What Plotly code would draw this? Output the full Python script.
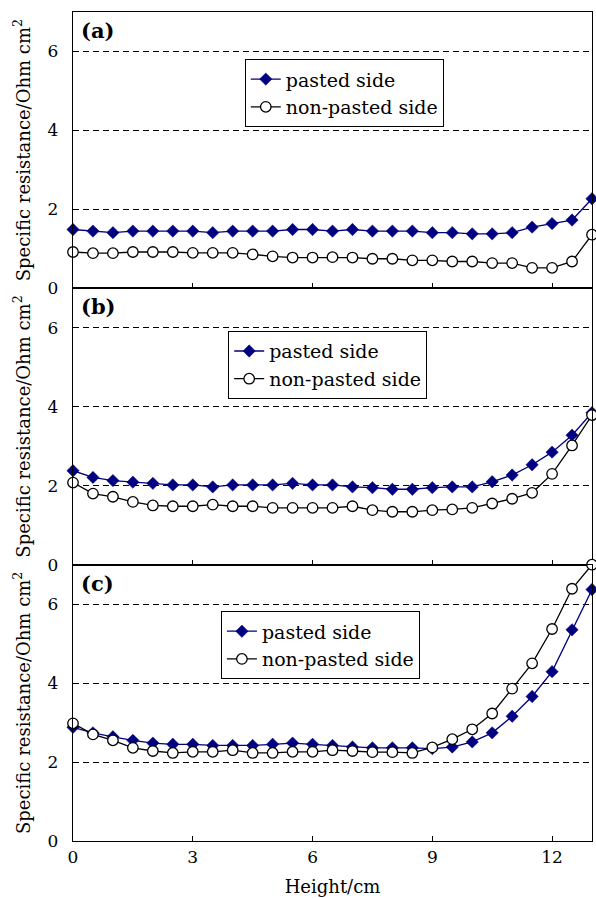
import plotly.graph_objects as go

height_cm = [0, 0.5, 1, 1.5, 2, 2.5, 3, 3.5, 4, 4.5, 5, 5.5, 6, 6.5, 7, 7.5, 8, 8.5,
             9, 9.5, 10, 10.5, 11, 11.5, 12, 12.5, 13]

a_pasted = [1.49, 1.45, 1.41, 1.45, 1.45, 1.45, 1.45, 1.41, 1.45, 1.45, 1.45, 1.49, 1.49,
            1.45, 1.49, 1.45, 1.45, 1.45, 1.41, 1.41, 1.38, 1.38, 1.41, 1.55, 1.64, 1.73, 2.27]
a_nonpasted = [0.92, 0.89, 0.89, 0.92, 0.92, 0.92, 0.90, 0.90, 0.90, 0.86, 0.81, 0.78, 0.78,
               0.79, 0.78, 0.75, 0.75, 0.71, 0.71, 0.68, 0.68, 0.64, 0.64, 0.52, 0.52, 0.68, 1.36]

b_pasted = [2.38, 2.21, 2.13, 2.09, 2.06, 2.02, 2.02, 1.97, 2.02, 2.02, 2.02, 2.06, 2.02,
            2.02, 1.97, 1.95, 1.91, 1.91, 1.95, 1.97, 1.97, 2.10, 2.27, 2.53, 2.85, 3.28, 3.85]
b_nonpasted = [2.08, 1.80, 1.72, 1.59, 1.50, 1.48, 1.48, 1.52, 1.48, 1.48, 1.44, 1.44, 1.44,
               1.44, 1.48, 1.38, 1.34, 1.34, 1.38, 1.40, 1.44, 1.55, 1.67, 1.82, 2.30, 3.02, 3.79]

c_pasted = [2.88, 2.74, 2.64, 2.55, 2.48, 2.45, 2.45, 2.42, 2.42, 2.42, 2.45, 2.48, 2.45,
            2.42, 2.38, 2.36, 2.36, 2.36, 2.34, 2.38, 2.51, 2.74, 3.16, 3.66, 4.29, 5.35, 6.37]
c_nonpasted = [2.98, 2.70, 2.55, 2.36, 2.28, 2.23, 2.26, 2.26, 2.30, 2.23, 2.23, 2.26, 2.26,
               2.30, 2.28, 2.25, 2.25, 2.23, 2.37, 2.58, 2.83, 3.23, 3.86, 4.50, 5.37, 6.39, 7.00]

panel_labels = ["(a)", "(b)", "(c)"]
series_names = ["pasted side", "non-pasted side"]
x_ticks = [0, 3, 6, 9, 12]
y_ticks = [0, 2, 4, 6]

FONT = "DejaVu Serif"
NAVY = "#000080"

panels = [(a_pasted, a_nonpasted), (b_pasted, b_nonpasted), (c_pasted, c_nonpasted)]
legend_pos = [(0.331, 0.943), (0.299, 0.615), (0.285, 0.277)]
domains = [[2 / 3, 1.0], [1 / 3, 2 / 3], [0.0, 1 / 3]]

fig = go.Figure()
layout = {}
for i, (pasted, nonpasted) in enumerate(panels):
    n = i + 1
    xa = "x" if n == 1 else f"x{n}"
    ya = "y" if n == 1 else f"y{n}"
    lg = "legend" if n == 1 else f"legend{n}"
    fig.add_trace(go.Scatter(
        x=height_cm, y=pasted, name=series_names[0], xaxis=xa, yaxis=ya, legend=lg,
        mode="lines+markers", cliponaxis=False,
        line=dict(color=NAVY, width=1.3),
        marker=dict(symbol="diamond", size=9.5, color=NAVY, line=dict(color=NAVY, width=0.5)),
    ))
    fig.add_trace(go.Scatter(
        x=height_cm, y=nonpasted, name=series_names[1], xaxis=xa, yaxis=ya, legend=lg,
        mode="lines+markers", cliponaxis=False,
        line=dict(color="black", width=1.3),
        marker=dict(symbol="circle", size=10.5, color="white", line=dict(color="black", width=1.3)),
    ))
    layout[f"xaxis{'' if n == 1 else n}"] = dict(
        domain=[0, 1], anchor=ya, range=[0, 13], tickvals=x_ticks,
        ticks="inside", ticklen=5, tickwidth=1, tickcolor="black",
        showticklabels=(n == 3), showgrid=False, zeroline=False,
        showline=True, linecolor="black", linewidth=1.3, mirror=True,
        tickfont=dict(family=FONT, size=17, color="black"),
        automargin=True,
        title=dict(text="Height/cm" if n == 3 else "", font=dict(family=FONT, size=18, color="black"),
                   standoff=14),
    )
    layout[f"yaxis{'' if n == 1 else n}"] = dict(
        domain=domains[i], anchor=xa, range=[0, 7], tickvals=y_ticks,
        ticks="outside", ticklen=10, tickcolor="rgba(0,0,0,0)",
        showgrid=True, gridcolor="black", gridwidth=1, griddash="6px,4px",
        zeroline=False, showline=True, linecolor="black", linewidth=1.3, mirror=True,
        tickfont=dict(family=FONT, size=17, color="black"),
        automargin=True,
        title=dict(text="Specific resistance/Ohm cm<sup>2</sup>",
                   font=dict(family=FONT, size=18, color="black"), standoff=12),
    )
    lx, ly = legend_pos[i]
    layout[lg] = dict(
        x=lx, y=ly, xanchor="left", yanchor="top", bgcolor="white",
        bordercolor="black", borderwidth=1,
        font=dict(family=FONT, size=19, color="black"),
    )
    fig.add_annotation(
        text=f"<b>{panel_labels[i]}</b>", xref=f"{xa} domain", yref=f"{ya} domain",
        x=0.012, y=0.985, xanchor="left", yanchor="top", showarrow=False,
        font=dict(family=FONT, size=21, color="black"),
    )

fig.update_layout(
    width=596, height=898,
    margin=dict(l=73, r=4, t=12, b=57, autoexpand=False),
    paper_bgcolor="white", plot_bgcolor="white",
    showlegend=True,
    font=dict(family=FONT, size=18, color="black"),
    **layout,
)

fig.write_html("out.html")
